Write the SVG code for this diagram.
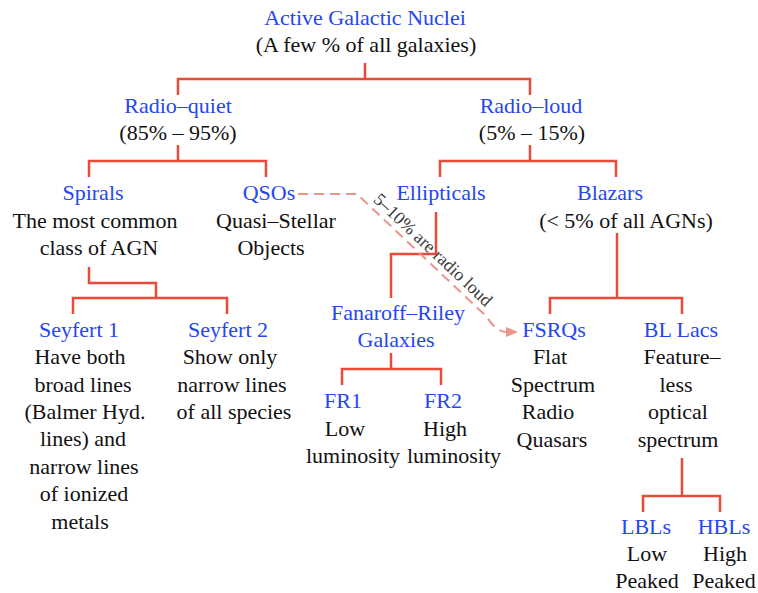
<svg xmlns="http://www.w3.org/2000/svg" width="758" height="593" viewBox="0 0 758 593">
<style>
text{font-family:"Liberation Serif","Times New Roman",serif;font-size:22px;text-anchor:middle;fill:#111}
.t{fill:#2546f0}
.c path{fill:none;stroke:#e84b37;stroke-width:2.5}
.c path.d{fill:none;stroke:#eb958c;stroke-width:2;stroke-dasharray:10 6}
.lbl{font-size:18px;fill:#3a3a3a}
</style>
<defs>
<marker id="ah" viewBox="0 0 12 10" refX="1" refY="5" markerWidth="12" markerHeight="10" markerUnits="userSpaceOnUse" orient="auto">
<path d="M0,0 L12,5 L0,10 z" fill="#eb958c"/>
</marker>
</defs>
<rect width="758" height="593" fill="#fff"/>
<g id="connectors" class="c">
<path d="M365,63 V79 M178,95 V79 H530 V95"/>
<path d="M178,145 V161 M89,177 V161 H266 V177"/>
<path d="M530,145 V161 M440,177 V161 H616 V177"/>
<path d="M89,267 V283 H156 V298 M73,314 V298 H227 V314"/>
<path d="M436,212 V254 H391 V298"/>
<path d="M391,353 V369 M342,385 V369 H441 V385"/>
<path d="M617,233 V298 M550,314 V298 H682 V314"/>
<path d="M682,458 V496 M643,512 V496 H720 V512"/>
<path class="d" d="M298,194 H357 L487,317 Q496,332 507,332" marker-end="url(#ah)"/>
<text class="lbl" transform="translate(429,254) rotate(43.3)">5–10% are radio loud</text>
</g>
<g id="agn"><text class="t" x="365" y="25">Active Galactic Nuclei</text><text x="366" y="52">(A few % of all galaxies)</text></g>
<g id="radio-quiet"><text class="t" x="178" y="113">Radio–quiet</text><text x="178" y="140">(85% – 95%)</text></g>
<g id="radio-loud"><text class="t" x="531" y="113">Radio–loud</text><text x="532" y="140">(5% – 15%)</text></g>
<g id="spirals"><text class="t" x="93" y="200">Spirals</text><text x="95" y="227.5">The most common</text><text x="99" y="255">class of AGN</text></g>
<g id="qsos"><text class="t" x="269" y="200">QSOs</text><text x="276" y="227.5">Quasi–Stellar</text><text x="271" y="255">Objects</text></g>
<g id="ellipticals"><text class="t" x="441" y="200">Ellipticals</text></g>
<g id="blazars"><text class="t" x="610" y="200">Blazars</text><text x="626" y="227.5">(&lt; 5% of all AGNs)</text></g>
<g id="seyfert1"><text class="t" x="79" y="337">Seyfert 1</text><text x="80" y="364">Have both</text><text x="83" y="391.5">broad lines</text><text x="85" y="419">(Balmer Hyd.</text><text x="83" y="446">lines) and</text><text x="84" y="473.5">narrow lines</text><text x="84" y="501">of ionized</text><text x="80" y="528.5">metals</text></g>
<g id="seyfert2"><text class="t" x="228" y="337">Seyfert 2</text><text x="230" y="364">Show only</text><text x="232" y="391.5">narrow lines</text><text x="234" y="419">of all species</text></g>
<g id="fanaroff-riley"><text class="t" x="398" y="320">Fanaroff–Riley</text><text class="t" x="396" y="347">Galaxies</text></g>
<g id="fr1"><text class="t" x="343" y="408">FR1</text><text x="345" y="435.5">Low</text><text x="353" y="463">luminosity</text></g>
<g id="fr2"><text class="t" x="443" y="408">FR2</text><text x="445" y="435.5">High</text><text x="454" y="463">luminosity</text></g>
<g id="fsrqs"><text class="t" x="554" y="337">FSRQs</text><text x="550" y="364">Flat</text><text x="553" y="391.5">Spectrum</text><text x="548" y="419">Radio</text><text x="552" y="446.5">Quasars</text></g>
<g id="bllacs"><text class="t" x="681" y="337">BL Lacs</text><text x="682" y="364">Feature–</text><text x="676" y="391.5">less</text><text x="678" y="419">optical</text><text x="678" y="446.5">spectrum</text></g>
<g id="lbls"><text class="t" x="646" y="534">LBLs</text><text x="647" y="561">Low</text><text x="647" y="587.5">Peaked</text></g>
<g id="hbls"><text class="t" x="724" y="534">HBLs</text><text x="725" y="561">High</text><text x="724" y="587.5">Peaked</text></g>
</svg>
